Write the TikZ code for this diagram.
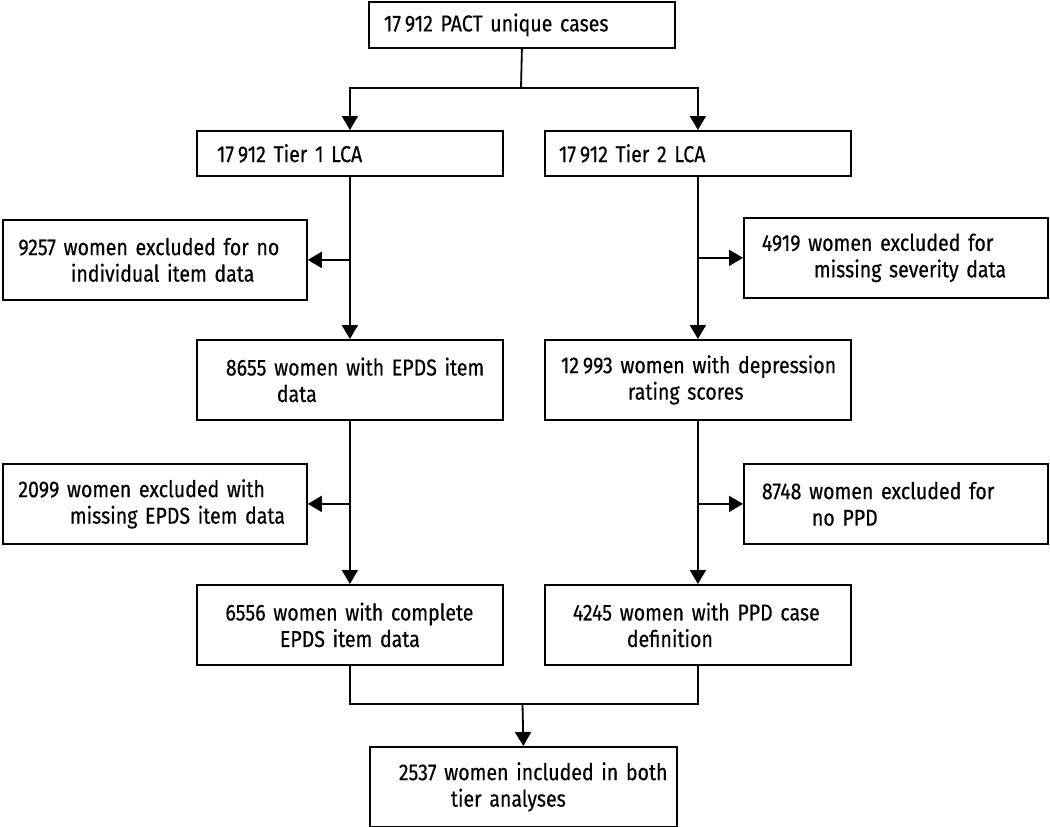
\documentclass[tikz,border=0pt]{standalone}
\usepackage{fontspec}
\setmainfont{Fira Sans}[FakeStretch=0.85,FakeBold=0.4]
\usetikzlibrary{arrows.meta}
\newcommand{\boxfont}{\fontsize{23}{26.5}\selectfont\spaceskip=0.16em\relax}
\begin{document}
\begin{tikzpicture}[x=1pt,y=-1pt,
  box/.style={draw=black, line width=1.8pt, inner xsep=0pt, inner ysep=0pt,
    align=left, anchor=north west, font=\boxfont},
  wbox/.style={box, minimum width=306pt, text width=306pt},
  ebox/.style={box, minimum width=304pt, text width=304pt, minimum height=80pt},
  link/.style={line width=1.8pt, draw=black},
  arr/.style={link, -{Triangle[length=14pt,width=16pt]}}]
\useasboundingbox (0,0) rectangle (1050,827);
% top row
\node[wbox, minimum height=46pt] (top) at (368,1) {\hspace*{15pt}17\,912 PACT unique cases};
\node[wbox, minimum height=45pt] (t1) at (196,130) {\hspace*{20pt}17\,912 Tier 1 LCA};
\node[wbox, minimum height=45pt] (t2) at (544,130) {\hspace*{14pt}17\,912 Tier 2 LCA};
% exclusions first level
\node[ebox] (ex1) at (2,219) {\hspace*{15.5pt}9257 women excluded for no\\\hspace*{68pt}individual item data};
\node[ebox] (ex2) at (743,217) {\hspace*{18pt}4919 women excluded for\\\hspace*{70pt}missing severity data};
% second row
\node[wbox, minimum height=80pt] (c1) at (196,339) {\hspace*{29pt}8655 women with EPDS item\\\hspace*{80pt}data};
\node[wbox, minimum height=80pt] (d1) at (544,339) {\hspace*{16pt}12\,993 women with depression\\\hspace*{83pt}rating scores};
% exclusions second level
\node[ebox] (ex3) at (2,463) {\hspace*{15.5pt}2099 women excluded with\\\hspace*{67pt}missing EPDS item data};
\node[ebox] (ex4) at (743,463) {\hspace*{18pt}8748 women excluded for\\\hspace*{68pt}no PPD};
% third row
\node[wbox, minimum height=80pt] (c2) at (196,584) {\hspace*{28.5pt}6556 women with complete\\\hspace*{83pt}EPDS item data};
\node[wbox, minimum height=80pt] (d2) at (544,584) {\hspace*{28pt}4245 women with PPD case\\\hspace*{82pt}definition};
% final
\node[box, minimum width=307pt, text width=307pt, minimum height=80pt] (fin) at (369,746) {\hspace*{29pt}2537 women included in both\\\hspace*{81pt}tier analyses};
% connectors
\coordinate (sp) at (521,88);
\draw[link] (top.south) -- (sp);
\draw[arr] (sp) -| (t1.north);
\draw[arr] (sp) -| (t2.north);
\draw[arr] (t1.south) -- (c1.north);
\draw[arr] (t2.south) -- (d1.north);
\draw[arr] (t1.south |- ex1.east) -- (ex1.east);
\draw[arr] (t2.south |- ex2.west) -- (ex2.west);
\draw[arr] (c1.south) -- (c2.north);
\draw[arr] (d1.south) -- (d2.north);
\draw[arr] (c1.south |- ex3.east) -- (ex3.east);
\draw[arr] (d1.south |- ex4.west) -- (ex4.west);
\coordinate (mg) at (522.5,704);
\draw[link] (c2.south) |- (mg) -| (d2.south);
\draw[arr] (mg) -- (fin.north);
\end{tikzpicture}
\end{document}
